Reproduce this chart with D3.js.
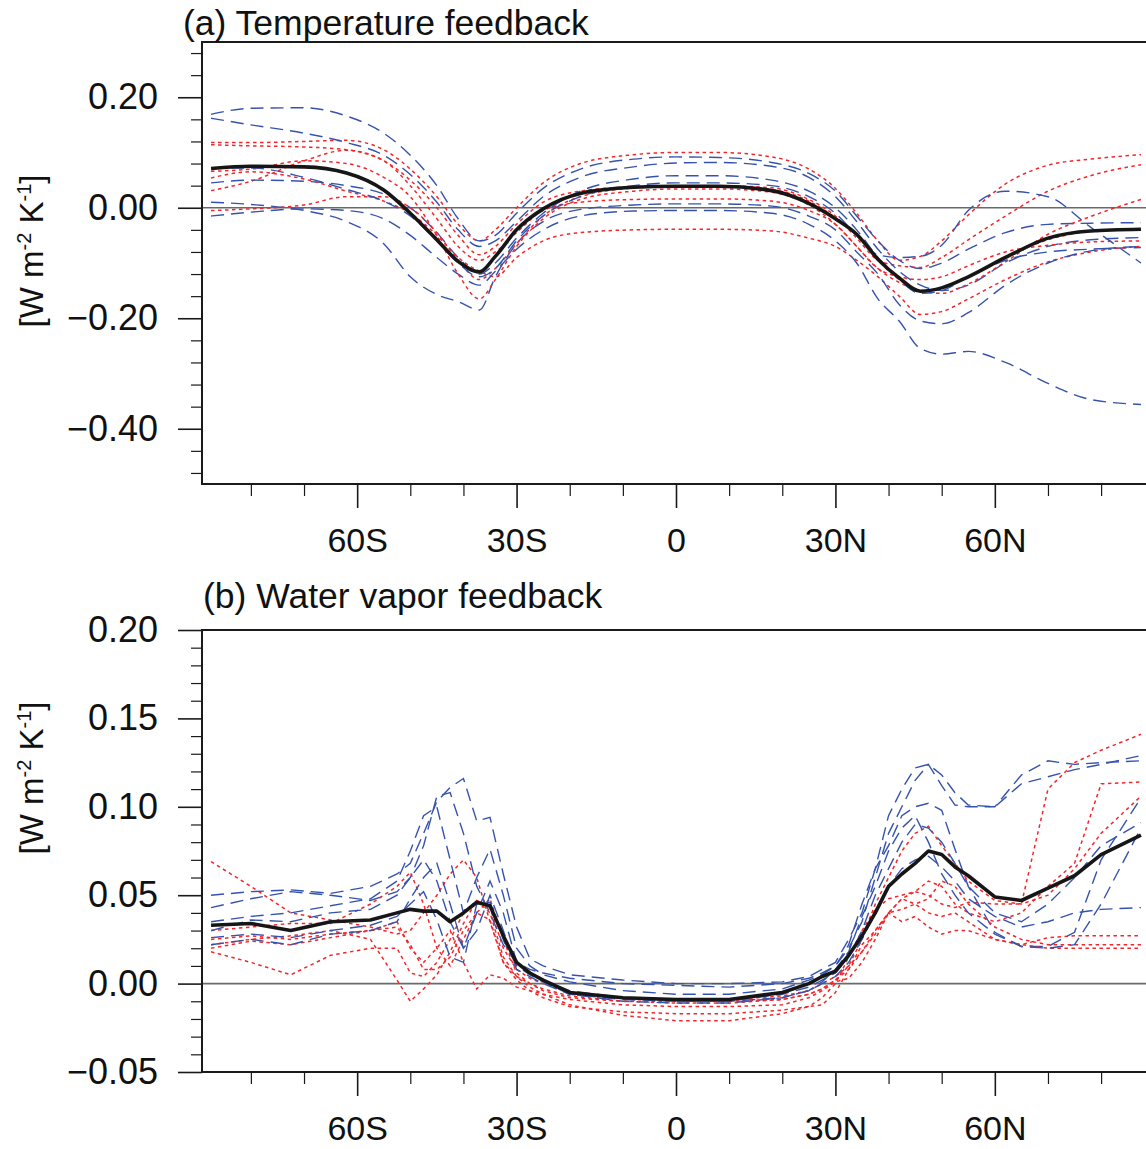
<!DOCTYPE html>
<html>
<head>
<meta charset="utf-8">
<script src="https://d3js.org/d3.v7.min.js"></script>
<style>
  body { margin: 0; background: #fff; }
  svg { display: block; font-family: "Liberation Sans", Arial, Helvetica, sans-serif; }
</style>
</head>
<body>
<svg id="fig" width="1146" height="1149"></svg>
<script>
// ---- panel (a) temperature feedback, values in W m-2 K-1 ----
const latA = [-87.5, -80, -70, -62, -55, -50, -45, -41, -37, -34, -30, -25, -18, -8, 0, 8, 18, 25, 30, 34, 38, 42, 46, 50, 55, 62, 70, 78, 87.5];

const tempMean = [0.071, 0.075, 0.074, 0.063, 0.032, -0.010, -0.058, -0.097, -0.116, -0.088, -0.040, -0.002, 0.026, 0.037, 0.039, 0.039, 0.031, 0.008, -0.020, -0.048, -0.093, -0.127, -0.151, -0.145, -0.125, -0.090, -0.055, -0.042, -0.039];

// blue dashed models
const tempBlue = [
  [0.169, 0.180, 0.181, 0.166, 0.135, 0.095, 0.040, -0.020, -0.060, -0.050, -0.010, 0.035, 0.070, 0.088, 0.092, 0.091, 0.082, 0.062, 0.030, -0.015, -0.060, -0.095, -0.110, -0.100, -0.075, -0.045, -0.030, -0.028, -0.027],
  [0.162, 0.150, 0.135, 0.118, 0.095, 0.060, 0.010, -0.040, -0.070, -0.060, -0.025, 0.020, 0.055, 0.074, 0.081, 0.082, 0.075, 0.055, 0.020, -0.025, -0.075, -0.115, -0.140, -0.150, -0.140, -0.100, -0.070, -0.058, -0.054],
  [0.045, 0.050, 0.048, 0.040, 0.025, 0.000, -0.045, -0.090, -0.120, -0.100, -0.055, -0.010, 0.030, 0.052, 0.058, 0.058, 0.050, 0.030, 0.000, -0.040, -0.090, -0.130, -0.155, -0.150, -0.125, -0.095, -0.080, -0.075, -0.072],
  [0.010, 0.006, -0.005, -0.025, -0.065, -0.125, -0.157, -0.170, -0.185, -0.125, -0.065, -0.025, -0.003, 0.005, 0.007, 0.007, 0.003, -0.015, -0.040, -0.080, -0.120, -0.175, -0.205, -0.210, -0.190, -0.140, -0.100, -0.078, -0.070],
  [-0.015, -0.008, -0.002, -0.005, -0.020, -0.050, -0.090, -0.120, -0.140, -0.115, -0.075, -0.040, -0.015, -0.006, -0.005, -0.005, -0.010, -0.030, -0.060, -0.100, -0.165, -0.205, -0.255, -0.265, -0.260, -0.280, -0.318, -0.347, -0.356],
  [0.072, 0.072, 0.055, 0.033, 0.012, -0.015, -0.060, -0.100, -0.125, -0.110, -0.060, -0.015, 0.020, 0.040, 0.045, 0.045, 0.040, 0.020, -0.010, -0.050, -0.085, -0.090, -0.088, -0.068, -0.005, 0.030, 0.020, -0.035, -0.100]
];

// red dotted models
const tempRed = [
  [0.118, 0.118, 0.120, 0.122, 0.105, 0.070, 0.020, -0.030, -0.060, -0.040, 0.000, 0.045, 0.080, 0.096, 0.100, 0.100, 0.092, 0.070, 0.035, -0.010, -0.060, -0.095, -0.088, -0.060, -0.013, 0.043, 0.077, 0.088, 0.096],
  [0.114, 0.112, 0.110, 0.105, 0.085, 0.050, 0.000, -0.050, -0.085, -0.070, -0.030, 0.010, 0.030, 0.038, 0.040, 0.040, 0.036, 0.015, -0.015, -0.055, -0.095, -0.105, -0.108, -0.090, -0.058, -0.015, 0.030, 0.058, 0.078],
  [0.031, 0.048, 0.085, 0.104, 0.085, 0.040, -0.020, -0.070, -0.095, -0.080, -0.045, -0.005, 0.010, 0.015, 0.016, 0.016, 0.012, -0.005, -0.030, -0.070, -0.110, -0.135, -0.150, -0.155, -0.138, -0.098, -0.048, -0.016, 0.015],
  [0.054, 0.065, 0.052, 0.030, 0.012, -0.010, -0.050, -0.090, -0.115, -0.125, -0.090, -0.060, -0.045, -0.040, -0.039, -0.039, -0.042, -0.055, -0.070, -0.095, -0.125, -0.160, -0.193, -0.188, -0.165, -0.130, -0.098, -0.080, -0.070],
  [-0.005, -0.002, 0.005, 0.020, 0.020, 0.000, -0.045, -0.095, -0.130, -0.110, -0.065, -0.015, 0.020, 0.036, 0.040, 0.040, 0.033, 0.012, -0.018, -0.050, -0.095, -0.130, -0.150, -0.145, -0.125, -0.090, -0.058, -0.043, -0.039],
  [0.066, 0.070, 0.085, 0.080, 0.055, 0.020, -0.050, -0.120, -0.165, -0.130, -0.070, -0.020, 0.015, 0.030, 0.034, 0.034, 0.028, 0.005, -0.030, -0.070, -0.110, -0.125, -0.130, -0.125, -0.105, -0.080, -0.068, -0.062, -0.060]
];

// ---- panel (b) water vapor feedback ----
const latB = [-87.5, -80, -72.5, -65, -57.5, -52.5, -50, -47.5, -45, -42.5, -40, -37.5, -35, -32.5, -30, -27.5, -25, -20, -10, 0, 10, 20, 25, 27.5, 30, 32.5, 35, 37.5, 40, 42.5, 45, 47.5, 50, 52.5, 55, 60, 65, 70, 75, 80, 87.5];

const wvMean = [0.033, 0.034, 0.030, 0.035, 0.036, 0.040, 0.042, 0.041, 0.041, 0.035, 0.040, 0.046, 0.044, 0.027, 0.012, 0.006, 0.002, -0.005, -0.008, -0.009, -0.009, -0.005, 0.000, 0.004, 0.007, 0.016, 0.027, 0.040, 0.055, 0.062, 0.068, 0.075, 0.073, 0.066, 0.061, 0.049, 0.047, 0.054, 0.061, 0.073, 0.084];

const wvBlue = [
  [0.050, 0.052, 0.053, 0.051, 0.055, 0.062, 0.068, 0.085, 0.103, 0.111, 0.116, 0.092, 0.094, 0.062, 0.032, 0.014, 0.010, 0.005, 0.002, 0.000, 0.000, 0.001, 0.004, 0.008, 0.012, 0.025, 0.040, 0.065, 0.095, 0.110, 0.122, 0.124, 0.118, 0.108, 0.101, 0.100, 0.113, 0.117, 0.121, 0.124, 0.129],
  [0.043, 0.048, 0.052, 0.050, 0.047, 0.052, 0.060, 0.078, 0.106, 0.108, 0.085, 0.055, 0.040, 0.022, 0.012, 0.008, 0.006, 0.003, 0.000, -0.001, -0.002, 0.000, 0.003, 0.006, 0.010, 0.020, 0.035, 0.060, 0.085, 0.100, 0.115, 0.124, 0.112, 0.101, 0.100, 0.100, 0.118, 0.126, 0.124, 0.125, 0.126],
  [0.035, 0.038, 0.040, 0.044, 0.048, 0.058, 0.075, 0.095, 0.100, 0.070, 0.040, 0.060, 0.076, 0.050, 0.020, 0.010, 0.005, 0.001, -0.004, -0.006, -0.006, -0.003, 0.002, 0.005, 0.010, 0.022, 0.045, 0.065, 0.078, 0.095, 0.100, 0.102, 0.098, 0.076, 0.055, 0.029, 0.021, 0.021, 0.029, 0.070, 0.105],
  [0.030, 0.036, 0.035, 0.040, 0.042, 0.050, 0.060, 0.070, 0.058, 0.035, 0.020, 0.040, 0.058, 0.040, 0.012, 0.006, 0.002, -0.004, -0.008, -0.010, -0.010, -0.006, -0.002, 0.002, 0.006, 0.015, 0.030, 0.050, 0.065, 0.080, 0.090, 0.088, 0.080, 0.068, 0.055, 0.040, 0.035, 0.045, 0.060, 0.078, 0.091],
  [0.026, 0.028, 0.026, 0.030, 0.033, 0.038, 0.045, 0.052, 0.036, 0.015, 0.012, 0.045, 0.046, 0.025, 0.010, 0.005, 0.001, -0.006, -0.010, -0.011, -0.011, -0.008, -0.004, 0.000, 0.004, 0.012, 0.025, 0.040, 0.055, 0.065, 0.070, 0.072, 0.066, 0.058, 0.048, 0.038, 0.032, 0.035, 0.040, 0.042, 0.043],
  [0.022, 0.025, 0.022, 0.028, 0.030, 0.035, 0.048, 0.060, 0.068, 0.045, 0.020, 0.030, 0.050, 0.030, 0.008, 0.004, 0.000, -0.006, -0.009, -0.010, -0.010, -0.008, -0.004, 0.001, 0.008, 0.018, 0.038, 0.055, 0.075, 0.088, 0.095, 0.080, 0.062, 0.050, 0.040, 0.028, 0.021, 0.020, 0.022, 0.045, 0.088]
];

const wvRed = [
  [0.069, 0.055, 0.040, 0.036, 0.032, 0.028, 0.030, 0.040, 0.050, 0.062, 0.070, 0.060, 0.035, 0.012, 0.002, -0.004, -0.008, -0.013, -0.016, -0.017, -0.017, -0.015, -0.013, -0.008, 0.000, 0.015, 0.030, 0.042, 0.048, 0.050, 0.052, 0.050, 0.045, 0.043, 0.046, 0.045, 0.045, 0.110, 0.125, 0.132, 0.141],
  [0.018, 0.012, 0.005, 0.016, 0.020, 0.020, 0.006, 0.004, 0.012, 0.025, 0.040, 0.047, 0.043, 0.020, 0.008, 0.003, 0.000, -0.005, -0.008, -0.009, -0.009, -0.007, -0.004, 0.000, 0.004, 0.010, 0.018, 0.028, 0.040, 0.048, 0.052, 0.058, 0.055, 0.045, 0.040, 0.035, 0.040, 0.055, 0.068, 0.113, 0.114],
  [0.022, 0.025, 0.027, 0.030, 0.025, 0.002, -0.010, -0.003, 0.005, 0.018, 0.034, 0.047, 0.040, 0.015, 0.004, -0.002, -0.006, -0.012, -0.018, -0.021, -0.021, -0.017, -0.013, -0.012, -0.005, 0.008, 0.022, 0.030, 0.040, 0.048, 0.045, 0.040, 0.038, 0.040, 0.035, 0.025, 0.022, 0.026, 0.027, 0.027, 0.027],
  [0.030, 0.032, 0.034, 0.034, 0.045, 0.055, 0.063, 0.045, 0.020, 0.010, 0.025, 0.040, 0.048, 0.025, 0.006, 0.000, -0.003, -0.007, -0.010, -0.011, -0.011, -0.009, -0.006, -0.003, 0.002, 0.010, 0.025, 0.045, 0.060, 0.075, 0.085, 0.089, 0.078, 0.068, 0.058, 0.047, 0.045, 0.050, 0.065, 0.085, 0.106],
  [0.020, 0.024, 0.022, 0.026, 0.030, 0.035, 0.020, 0.012, 0.020, 0.030, 0.012, -0.003, 0.005, 0.003, -0.002, -0.004, -0.006, -0.009, -0.012, -0.013, -0.013, -0.012, -0.008, -0.004, 0.001, 0.003, 0.012, 0.025, 0.040, 0.042, 0.045, 0.048, 0.058, 0.055, 0.045, 0.032, 0.025, 0.022, 0.022, 0.022, 0.022],
  [0.025, 0.027, 0.025, 0.028, 0.030, 0.032, 0.022, 0.008, 0.008, 0.015, 0.030, 0.040, 0.036, 0.012, 0.004, 0.000, -0.004, -0.008, -0.010, -0.010, -0.010, -0.009, -0.006, -0.003, 0.002, 0.008, 0.018, 0.030, 0.040, 0.035, 0.038, 0.032, 0.028, 0.030, 0.030, 0.025, 0.022, 0.020, 0.020, 0.020, 0.020]
];

const latTicks = [-60, -30, 0, 30, 60];
const latMinor = [-80, -70, -50, -40, -20, -10, 10, 20, 40, 50, 70, 80];
const ticksA = [0.2, 0, -0.2, -0.4];
const ticksB = [0.2, 0.15, 0.1, 0.05, 0, -0.05];

const svg = d3.select('#fig');

function latLabel(d) {
  if (d === 0) return '0';
  return Math.abs(d) + (d < 0 ? 'S' : 'N');
}

function drawPanel(opt) {
  const left = 202, right = 1150;
  const x = d3.scaleLinear().domain([-89.2, 89.2]).range([left, right]);
  const y = d3.scaleLinear().domain(opt.yDomain).range([opt.bottom, opt.top]);
  const g = svg.append('g');

  g.append('clipPath').attr('id', opt.id + 'clip')
    .append('rect')
    .attr('x', left).attr('y', opt.top)
    .attr('width', right - left).attr('height', opt.bottom - opt.top);

  const plot = g.append('g').attr('clip-path', 'url(#' + opt.id + 'clip)');

  // zero reference line
  plot.append('line')
    .attr('x1', left).attr('x2', right)
    .attr('y1', y(0)).attr('y2', y(0))
    .attr('stroke', '#6a6a6a').attr('stroke-width', 1.6);

  const line = d3.line()
    .x((d, i) => x(opt.lat[i]))
    .y(d => y(d))
    .curve(opt.curve);

  // interleave blue and red models so neither sits completely on top
  const n = Math.max(opt.blue.length, opt.red.length);
  for (let i = 0; i < n; i++) {
    if (opt.red[i]) {
      plot.append('path').datum(opt.red[i])
        .attr('d', line).attr('fill', 'none')
        .attr('stroke', '#f5262a').attr('stroke-width', 1.5)
        .attr('stroke-dasharray', '3.5,3.5');
    }
    if (opt.blue[i]) {
      plot.append('path').datum(opt.blue[i])
        .attr('d', line).attr('fill', 'none')
        .attr('stroke', '#3553ad').attr('stroke-width', 1.4)
        .attr('stroke-dasharray', '13,7');
    }
  }

  plot.append('path').datum(opt.mean)
    .attr('d', line).attr('fill', 'none')
    .attr('stroke', '#161616').attr('stroke-width', 3.6)
    .attr('stroke-linejoin', 'round');

  // frame
  g.append('rect')
    .attr('x', left).attr('y', opt.top)
    .attr('width', right - left).attr('height', opt.bottom - opt.top)
    .attr('fill', 'none').attr('stroke', '#1a1a1a').attr('stroke-width', 2);

  // x axis ticks (outward)
  const xAxis = d3.axisBottom(x).tickValues(latTicks).tickFormat(latLabel)
    .tickSize(24).tickPadding(20);
  const xg = g.append('g').attr('transform', 'translate(0,' + opt.bottom + ')').call(xAxis);
  xg.select('.domain').remove();
  xg.selectAll('line').attr('stroke', '#1a1a1a').attr('stroke-width', 1.6);
  xg.selectAll('text').attr('font-size', 34).attr('fill', '#111');

  const xMinor = d3.axisBottom(x).tickValues(latMinor).tickSize(12).tickFormat('');
  const xmg = g.append('g').attr('transform', 'translate(0,' + opt.bottom + ')').call(xMinor);
  xmg.select('.domain').remove();
  xmg.selectAll('line').attr('stroke', '#1a1a1a').attr('stroke-width', 1.2);

  // y axis
  const yAxis = d3.axisLeft(y).tickValues(opt.yTicks).tickFormat(d => d3.format('.2f')(d).replace('-', '\u2212'))
    .tickSize(24).tickPadding(20);
  const yg = g.append('g').attr('transform', 'translate(' + left + ',0)').call(yAxis);
  yg.select('.domain').remove();
  yg.selectAll('line').attr('stroke', '#1a1a1a').attr('stroke-width', 1.6);
  yg.selectAll('text').attr('font-size', 36).attr('fill', '#111');

  const yMinor = d3.axisLeft(y).tickValues(opt.yMinor).tickSize(11).tickFormat('');
  const ymg = g.append('g').attr('transform', 'translate(' + left + ',0)').call(yMinor);
  ymg.select('.domain').remove();
  ymg.selectAll('line').attr('stroke', '#1a1a1a').attr('stroke-width', 1.2);

  // title
  g.append('text')
    .attr('x', opt.titleX).attr('y', opt.titleY)
    .attr('font-size', 35.5).attr('fill', '#111')
    .text(opt.title);

  // unit label
  const ul = g.append('text')
    .attr('transform', 'translate(43,' + opt.unitY + ') rotate(-90)')
    .attr('text-anchor', 'middle')
    .attr('font-size', 33).attr('fill', '#111');
  ul.append('tspan').text('[W m');
  ul.append('tspan').attr('font-size', 20).attr('dy', -12).text('-2');
  ul.append('tspan').attr('dy', 12).text(' K');
  ul.append('tspan').attr('font-size', 20).attr('dy', -12).text('-1');
  ul.append('tspan').attr('dy', 12).text(']');
}

// minor tick values
const minorA = d3.range(-12, 8).map(k => k * 0.04).filter(v => Math.abs(v / 0.2 - Math.round(v / 0.2)) > 1e-6);
const minorB = d3.range(-5, 21).map(k => k * 0.01).filter(v => Math.abs(v / 0.05 - Math.round(v / 0.05)) > 1e-6);

drawPanel({
  id: 'a', top: 42, bottom: 484, yDomain: [-0.5, 0.3],
  yTicks: ticksA, yMinor: minorA,
  lat: latA, mean: tempMean, blue: tempBlue, red: tempRed,
  curve: d3.curveMonotoneX,
  title: '(a) Temperature feedback', titleX: 183, titleY: 35, unitY: 251
});

drawPanel({
  id: 'b', top: 630, bottom: 1072, yDomain: [-0.05, 0.2],
  yTicks: ticksB, yMinor: minorB,
  lat: latB, mean: wvMean, blue: wvBlue, red: wvRed,
  curve: d3.curveLinear,
  title: '(b) Water vapor feedback', titleX: 203, titleY: 608, unitY: 778
});
</script>
</body>
</html>
